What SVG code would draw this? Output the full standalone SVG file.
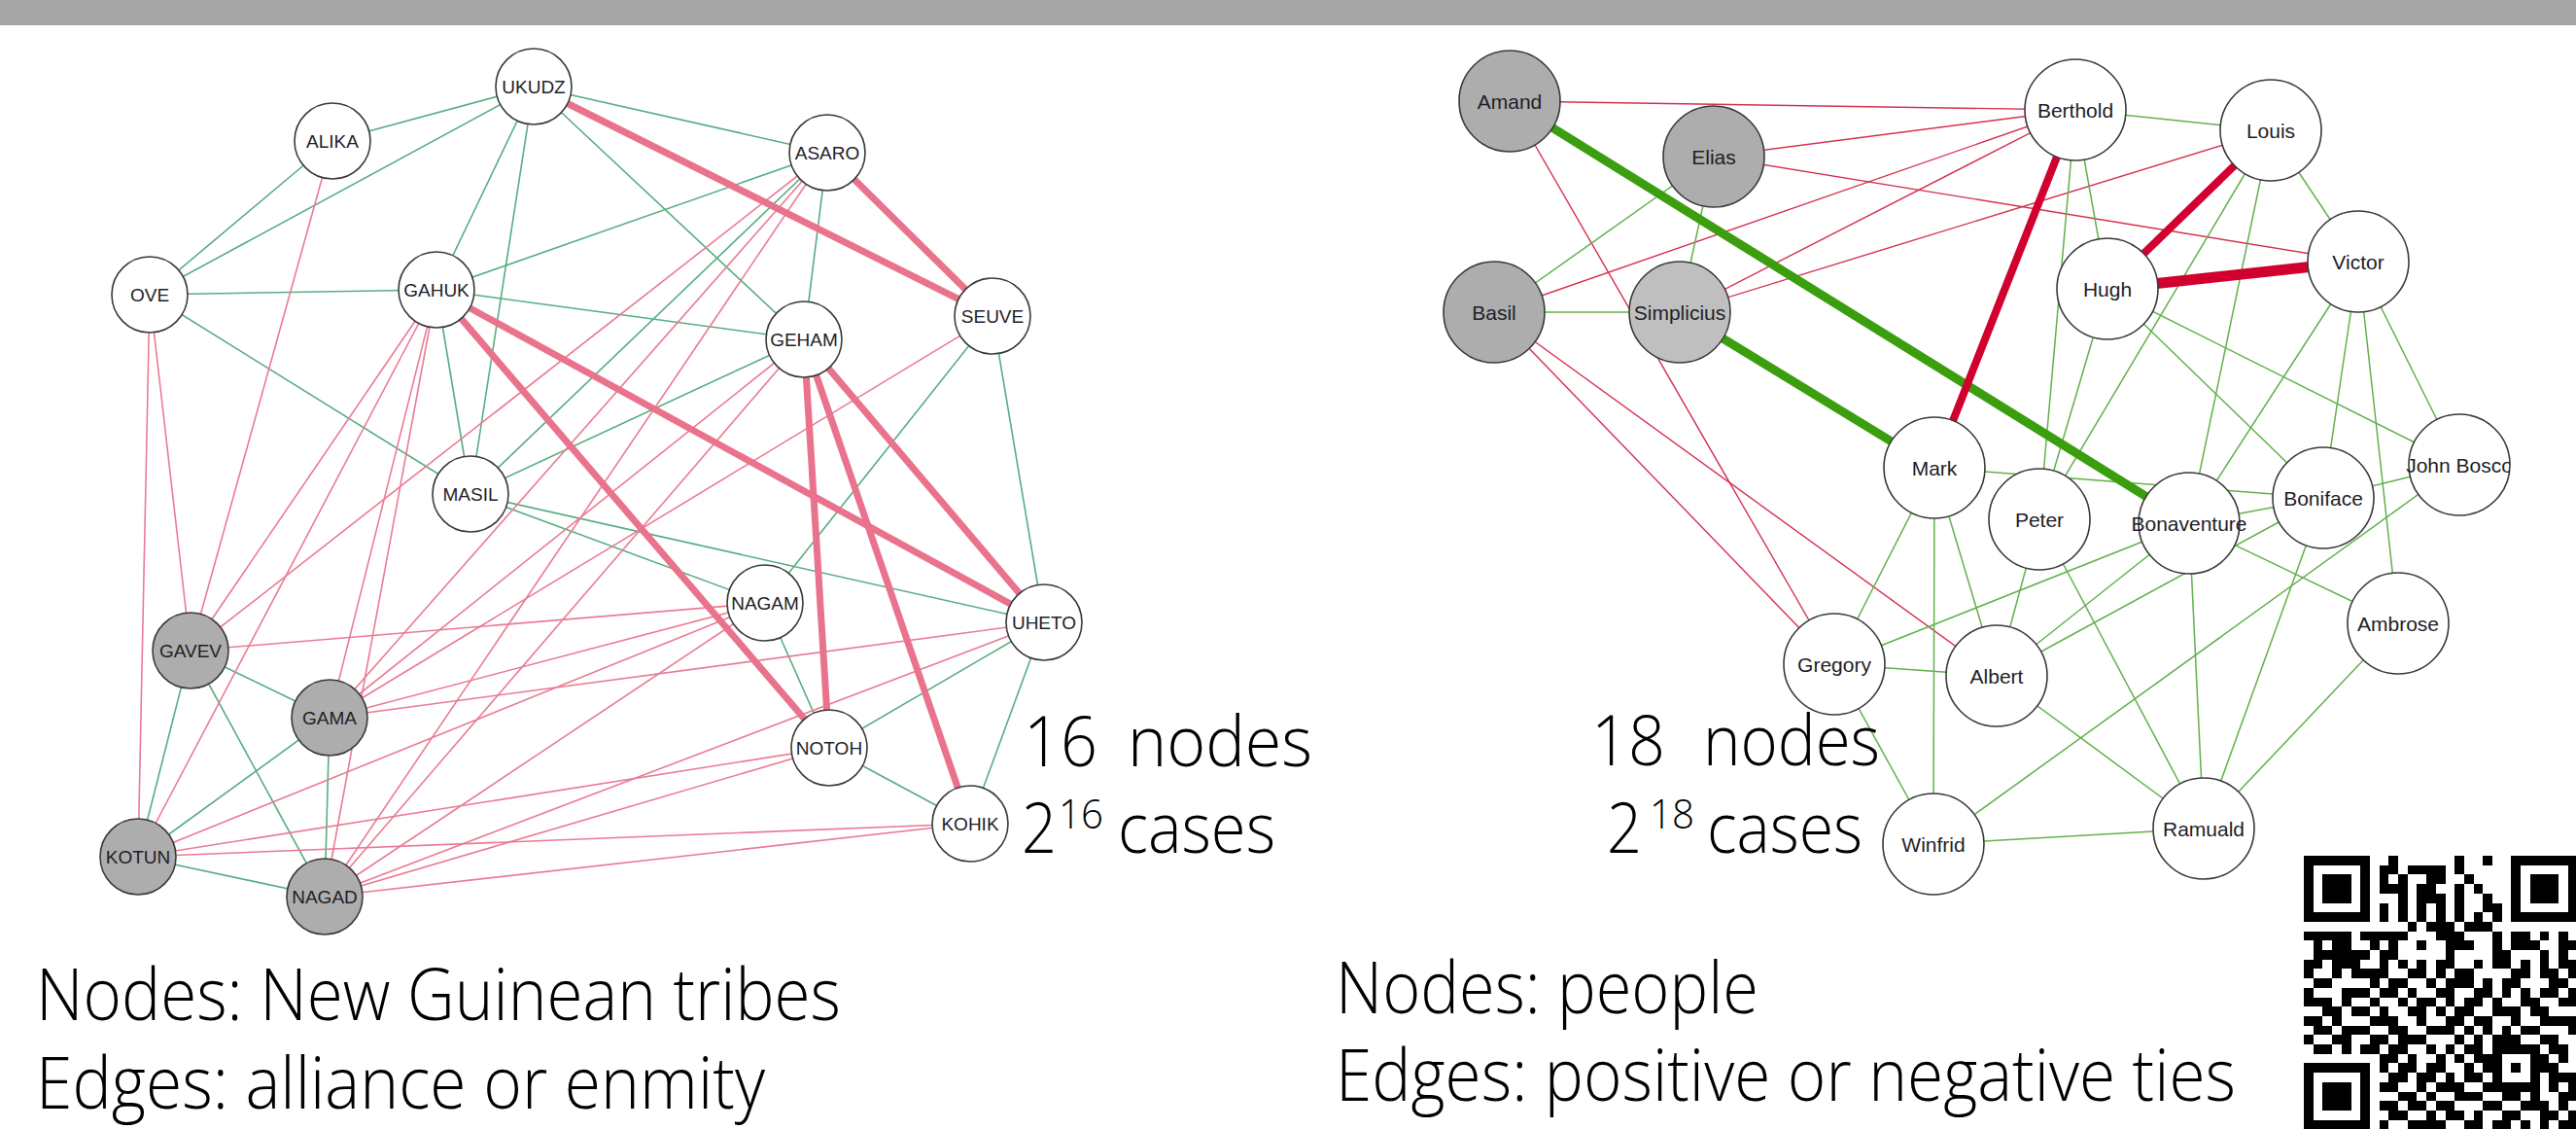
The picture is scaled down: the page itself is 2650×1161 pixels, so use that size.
<svg xmlns="http://www.w3.org/2000/svg" width="2650" height="1161" viewBox="0 0 2650 1161">
<style>
.gl{stroke:#56ad82;stroke-width:1.6}
.pl{stroke:#ea7b95;stroke-width:1.6}
.pk{stroke:#e9738d;stroke-width:7}
.gr{stroke:#62b04c;stroke-width:1.5}
.rr{stroke:#d5304f;stroke-width:1.4}
.gt{stroke:#3a9e0e;stroke-width:9}
.rt{stroke:#d1002f;stroke-width:8}
.n{fill:#fff;stroke:#3a3a3a;stroke-width:1.6}
.g{fill:#adadad;stroke:#3a3a3a;stroke-width:1.6}
.s{fill:#bfbfbf;stroke:#3a3a3a;stroke-width:1.6}
.l1{font-family:"Liberation Sans",Arial,sans-serif;font-size:19px;fill:#1e1e28;text-anchor:middle}
.l2{font-family:"Liberation Sans",Arial,sans-serif;font-size:21px;fill:#1e1e28;text-anchor:middle}
.big{font-family:"Open Sans","Liberation Sans",sans-serif;font-weight:300;fill:#000}
</style>
<defs>
<clipPath id="rc"><rect x="1400" y="30" width="1182" height="900"/></clipPath>
</defs>
<rect x="0" y="0" width="2650" height="1161" fill="#fff"/>
<rect x="0" y="0" width="2650" height="26" fill="#a5a5a5"/>

<g id="connectors">
<g id="left-edges">
<line class="gl" x1="196" y1="669" x2="142" y2="881"/>
<line class="gl" x1="196" y1="669" x2="339" y2="738"/>
<line class="gl" x1="196" y1="669" x2="334" y2="922"/>
<line class="gl" x1="142" y1="881" x2="339" y2="738"/>
<line class="gl" x1="142" y1="881" x2="334" y2="922"/>
<line class="gl" x1="339" y1="738" x2="334" y2="922"/>
<line class="gl" x1="154" y1="303" x2="342" y2="145"/>
<line class="gl" x1="154" y1="303" x2="549" y2="89"/>
<line class="gl" x1="154" y1="303" x2="449" y2="298"/>
<line class="gl" x1="154" y1="303" x2="484" y2="508"/>
<line class="gl" x1="342" y1="145" x2="549" y2="89"/>
<line class="gl" x1="549" y1="89" x2="449" y2="298"/>
<line class="gl" x1="549" y1="89" x2="484" y2="508"/>
<line class="gl" x1="549" y1="89" x2="827" y2="349"/>
<line class="gl" x1="549" y1="89" x2="851" y2="157"/>
<line class="gl" x1="449" y1="298" x2="851" y2="157"/>
<line class="gl" x1="449" y1="298" x2="827" y2="349"/>
<line class="gl" x1="449" y1="298" x2="484" y2="508"/>
<line class="gl" x1="484" y1="508" x2="851" y2="157"/>
<line class="gl" x1="484" y1="508" x2="827" y2="349"/>
<line class="gl" x1="484" y1="508" x2="787" y2="620"/>
<line class="gl" x1="484" y1="508" x2="1074" y2="640"/>
<line class="gl" x1="851" y1="157" x2="827" y2="349"/>
<line class="gl" x1="1021" y1="325" x2="787" y2="620"/>
<line class="gl" x1="1021" y1="325" x2="1074" y2="640"/>
<line class="gl" x1="787" y1="620" x2="853" y2="769"/>
<line class="gl" x1="1074" y1="640" x2="853" y2="769"/>
<line class="gl" x1="1074" y1="640" x2="998" y2="847"/>
<line class="gl" x1="853" y1="769" x2="998" y2="847"/>

<line class="pl" x1="196" y1="669" x2="154" y2="303"/>
<line class="pl" x1="196" y1="669" x2="342" y2="145"/>
<line class="pl" x1="196" y1="669" x2="449" y2="298"/>
<line class="pl" x1="196" y1="669" x2="851" y2="157"/>
<line class="pl" x1="196" y1="669" x2="787" y2="620"/>
<line class="pl" x1="142" y1="881" x2="154" y2="303"/>
<line class="pl" x1="142" y1="881" x2="449" y2="298"/>
<line class="pl" x1="142" y1="881" x2="787" y2="620"/>
<line class="pl" x1="142" y1="881" x2="853" y2="769"/>
<line class="pl" x1="142" y1="881" x2="998" y2="847"/>
<line class="pl" x1="339" y1="738" x2="449" y2="298"/>
<line class="pl" x1="339" y1="738" x2="851" y2="157"/>
<line class="pl" x1="339" y1="738" x2="827" y2="349"/>
<line class="pl" x1="339" y1="738" x2="1021" y2="325"/>
<line class="pl" x1="339" y1="738" x2="787" y2="620"/>
<line class="pl" x1="339" y1="738" x2="1074" y2="640"/>
<line class="pl" x1="334" y1="922" x2="449" y2="298"/>
<line class="pl" x1="334" y1="922" x2="851" y2="157"/>
<line class="pl" x1="334" y1="922" x2="827" y2="349"/>
<line class="pl" x1="334" y1="922" x2="787" y2="620"/>
<line class="pl" x1="334" y1="922" x2="1074" y2="640"/>
<line class="pl" x1="334" y1="922" x2="853" y2="769"/>
<line class="pl" x1="334" y1="922" x2="998" y2="847"/>

<line class="pk" x1="549" y1="89" x2="1021" y2="325"/>
<line class="pk" x1="851" y1="157" x2="1021" y2="325"/>
<line class="pk" x1="449" y1="298" x2="1074" y2="640"/>
<line class="pk" x1="449" y1="298" x2="853" y2="769"/>
<line class="pk" x1="827" y1="349" x2="853" y2="769"/>
<line class="pk" x1="827" y1="349" x2="998" y2="847"/>
<line class="pk" x1="827" y1="349" x2="1074" y2="640"/>
</g>

<g id="right-edges">
<line class="rr" x1="1553" y1="104" x2="2135" y2="113"/>
<line class="rr" x1="1763" y1="161" x2="2135" y2="113"/>
<line class="rr" x1="1537" y1="321" x2="2135" y2="113"/>
<line class="rr" x1="1728" y1="321" x2="2135" y2="113"/>
<line class="rr" x1="1728" y1="321" x2="2336" y2="134"/>
<line class="rr" x1="1763" y1="161" x2="2426" y2="269"/>
<line class="rr" x1="1553" y1="104" x2="1887" y2="683"/>
<line class="rr" x1="1537" y1="321" x2="1887" y2="683"/>
<line class="rr" x1="1537" y1="321" x2="2054" y2="695"/>

<line class="gr" x1="1537" y1="321" x2="1728" y2="321"/>
<line class="gr" x1="1537" y1="321" x2="1763" y2="161"/>
<line class="gr" x1="1763" y1="161" x2="1728" y2="321"/>
<line class="gr" x1="2135" y1="113" x2="2336" y2="134"/>
<line class="gr" x1="2135" y1="113" x2="2168" y2="297"/>
<line class="gr" x1="2135" y1="113" x2="2098" y2="534"/>
<line class="gr" x1="2168" y1="297" x2="2098" y2="534"/>
<line class="gr" x1="2336" y1="134" x2="2098" y2="534"/>
<line class="gr" x1="2336" y1="134" x2="2252" y2="538"/>
<line class="gr" x1="2336" y1="134" x2="2426" y2="269"/>
<line class="gr" x1="2168" y1="297" x2="2390" y2="512"/>
<line class="gr" x1="2168" y1="297" x2="2530" y2="478"/>
<line class="gr" x1="2426" y1="269" x2="2390" y2="512"/>
<line class="gr" x1="2426" y1="269" x2="2467" y2="641"/>
<line class="gr" x1="2426" y1="269" x2="2530" y2="478"/>
<line class="gr" x1="2426" y1="269" x2="2252" y2="538"/>
<line class="gr" x1="1990" y1="481" x2="2390" y2="512"/>
<line class="gr" x1="1990" y1="481" x2="1887" y2="683"/>
<line class="gr" x1="1990" y1="481" x2="1989" y2="868"/>
<line class="gr" x1="1990" y1="481" x2="2054" y2="695"/>
<line class="gr" x1="2098" y1="534" x2="2054" y2="695"/>
<line class="gr" x1="2098" y1="534" x2="2267" y2="852"/>
<line class="gr" x1="2252" y1="538" x2="1887" y2="683"/>
<line class="gr" x1="2252" y1="538" x2="2054" y2="695"/>
<line class="gr" x1="2054" y1="695" x2="2390" y2="512"/>
<line class="gr" x1="2252" y1="538" x2="2267" y2="852"/>
<line class="gr" x1="2252" y1="538" x2="2467" y2="641"/>
<line class="gr" x1="2252" y1="538" x2="2390" y2="512"/>
<line class="gr" x1="2390" y1="512" x2="2530" y2="478"/>
<line class="gr" x1="2390" y1="512" x2="2267" y2="852"/>
<line class="gr" x1="2467" y1="641" x2="2267" y2="852"/>
<line class="gr" x1="1989" y1="868" x2="2267" y2="852"/>
<line class="gr" x1="2054" y1="695" x2="2267" y2="852"/>
<line class="gr" x1="1887" y1="683" x2="2054" y2="695"/>
<line class="gr" x1="1887" y1="683" x2="1989" y2="868"/>
<line class="gr" x1="1989" y1="868" x2="2530" y2="478"/>

<line class="gt" x1="1553" y1="104" x2="2252" y2="538"/>
<line class="gt" x1="1728" y1="321" x2="1990" y2="481"/>
<line class="rt" x1="2135" y1="113" x2="1990" y2="481"/>
<line class="rt" x1="2336" y1="134" x2="2168" y2="297"/>
<line class="rt" x1="2168" y1="297" x2="2426" y2="269" style="stroke-width:11"/>
</g>
</g>

<g id="n-UKUDZ"><circle class="n" cx="549" cy="89" r="39"/><text class="l1" x="549" y="96">UKUDZ</text></g>
<g id="n-ALIKA"><circle class="n" cx="342" cy="145" r="39"/><text class="l1" x="342" y="152">ALIKA</text></g>
<g id="n-ASARO"><circle class="n" cx="851" cy="157" r="39"/><text class="l1" x="851" y="164">ASARO</text></g>
<g id="n-OVE"><circle class="n" cx="154" cy="303" r="39"/><text class="l1" x="154" y="310">OVE</text></g>
<g id="n-GAHUK"><circle class="n" cx="449" cy="298" r="39"/><text class="l1" x="449" y="305">GAHUK</text></g>
<g id="n-GEHAM"><circle class="n" cx="827" cy="349" r="39"/><text class="l1" x="827" y="356">GEHAM</text></g>
<g id="n-SEUVE"><circle class="n" cx="1021" cy="325" r="39"/><text class="l1" x="1021" y="332">SEUVE</text></g>
<g id="n-MASIL"><circle class="n" cx="484" cy="508" r="39"/><text class="l1" x="484" y="515">MASIL</text></g>
<g id="n-NAGAM"><circle class="n" cx="787" cy="620" r="39"/><text class="l1" x="787" y="627">NAGAM</text></g>
<g id="n-UHETO"><circle class="n" cx="1074" cy="640" r="39"/><text class="l1" x="1074" y="647">UHETO</text></g>
<g id="n-GAVEV"><circle class="g" cx="196" cy="669" r="39"/><text class="l1" x="196" y="676">GAVEV</text></g>
<g id="n-GAMA"><circle class="g" cx="339" cy="738" r="39"/><text class="l1" x="339" y="745">GAMA</text></g>
<g id="n-NOTOH"><circle class="n" cx="853" cy="769" r="39"/><text class="l1" x="853" y="776">NOTOH</text></g>
<g id="n-KOHIK"><circle class="n" cx="998" cy="847" r="39"/><text class="l1" x="998" y="854">KOHIK</text></g>
<g id="n-KOTUN"><circle class="g" cx="142" cy="881" r="39"/><text class="l1" x="142" y="888">KOTUN</text></g>
<g id="n-NAGAD"><circle class="g" cx="334" cy="922" r="39"/><text class="l1" x="334" y="929">NAGAD</text></g>

<g id="n-Amand"><circle class="g" cx="1553" cy="104" r="52"/><text class="l2" x="1553" y="112">Amand</text></g>
<g id="n-Elias"><circle class="g" cx="1763" cy="161" r="52"/><text class="l2" x="1763" y="169">Elias</text></g>
<g id="n-Basil"><circle class="g" cx="1537" cy="321" r="52"/><text class="l2" x="1537" y="329">Basil</text></g>
<g id="n-Simplicius"><circle class="s" cx="1728" cy="321" r="52"/><text class="l2" x="1728" y="329">Simplicius</text></g>
<g id="n-Berthold"><circle class="n" cx="2135" cy="113" r="52"/><text class="l2" x="2135" y="121">Berthold</text></g>
<g id="n-Louis"><circle class="n" cx="2336" cy="134" r="52"/><text class="l2" x="2336" y="142">Louis</text></g>
<g id="n-Victor"><circle class="n" cx="2426" cy="269" r="52"/><text class="l2" x="2426" y="277">Victor</text></g>
<g id="n-Hugh"><circle class="n" cx="2168" cy="297" r="52"/><text class="l2" x="2168" y="305">Hugh</text></g>
<g id="n-Mark"><circle class="n" cx="1990" cy="481" r="52"/><text class="l2" x="1990" y="489">Mark</text></g>
<g id="n-Peter"><circle class="n" cx="2098" cy="534" r="52"/><text class="l2" x="2098" y="542">Peter</text></g>
<g id="n-Bonaventure"><circle class="n" cx="2252" cy="538" r="52"/><text class="l2" x="2252" y="546">Bonaventure</text></g>
<g id="n-Boniface"><circle class="n" cx="2390" cy="512" r="52"/><text class="l2" x="2390" y="520">Boniface</text></g>
<g id="n-JohnBosco"><circle class="n" cx="2530" cy="478" r="52"/><text class="l2" x="2530" y="486" clip-path="url(#rc)">John Bosco</text></g>
<g id="n-Ambrose"><circle class="n" cx="2467" cy="641" r="52"/><text class="l2" x="2467" y="649">Ambrose</text></g>
<g id="n-Gregory"><circle class="n" cx="1887" cy="683" r="52"/><text class="l2" x="1887" y="691">Gregory</text></g>
<g id="n-Albert"><circle class="n" cx="2054" cy="695" r="52"/><text class="l2" x="2054" y="703">Albert</text></g>
<g id="n-Winfrid"><circle class="n" cx="1989" cy="868" r="52"/><text class="l2" x="1989" y="876">Winfrid</text></g>
<g id="n-Ramuald"><circle class="n" cx="2267" cy="852" r="52"/><text class="l2" x="2267" y="860">Ramuald</text></g>

<g id="counts" class="big">
<text x="1053" y="788" font-size="72" textLength="76" lengthAdjust="spacingAndGlyphs">16</text>
<text x="1160" y="788" font-size="72" textLength="190" lengthAdjust="spacingAndGlyphs">nodes</text>
<text x="1051" y="877" font-size="72" textLength="36" lengthAdjust="spacingAndGlyphs">2</text>
<text x="1089" y="852" font-size="42" textLength="46" lengthAdjust="spacingAndGlyphs">16</text>
<text x="1150" y="877" font-size="72" textLength="162" lengthAdjust="spacingAndGlyphs">cases</text>
<text x="1637" y="787" font-size="72" textLength="76" lengthAdjust="spacingAndGlyphs">18</text>
<text x="1752" y="787" font-size="72" textLength="182" lengthAdjust="spacingAndGlyphs">nodes</text>
<text x="1653" y="877" font-size="72" textLength="36" lengthAdjust="spacingAndGlyphs">2</text>
<text x="1697" y="852" font-size="42" textLength="46" lengthAdjust="spacingAndGlyphs">18</text>
<text x="1756" y="877" font-size="72" textLength="160" lengthAdjust="spacingAndGlyphs">cases</text>
</g>

<g id="captions" class="big" font-size="73">
<text x="37" y="1049" textLength="828" lengthAdjust="spacingAndGlyphs">Nodes: New Guinean tribes</text>
<text x="37" y="1140" textLength="750" lengthAdjust="spacingAndGlyphs">Edges: alliance or enmity</text>
<text x="1374" y="1042" textLength="435" lengthAdjust="spacingAndGlyphs">Nodes: people</text>
<text x="1374" y="1132" textLength="926" lengthAdjust="spacingAndGlyphs">Edges: positive or negative ties</text>
</g>

<g id="qr" transform="translate(2370,880) scale(9.7)" fill="#000" shape-rendering="crispEdges">
<path d="M0 0h7v1h-7zM9 0h1v1h-1zM16 0h1v1h-1zM19 0h1v1h-1zM22 0h7v1h-7z
M0 1h1v1h-1zM6 1h1v1h-1zM8 1h2v1h-2zM11 1h4v1h-4zM16 1h1v1h-1zM22 1h1v1h-1zM28 1h1v1h-1z
M0 2h1v1h-1zM2 2h3v1h-3zM6 2h1v1h-1zM8 2h1v1h-1zM10 2h1v1h-1zM13 2h2v1h-2zM17 2h1v1h-1zM22 2h1v1h-1zM24 2h3v1h-3zM28 2h1v1h-1z
M0 3h1v1h-1zM2 3h3v1h-3zM6 3h1v1h-1zM8 3h3v1h-3zM12 3h2v1h-2zM16 3h1v1h-1zM18 3h1v1h-1zM22 3h1v1h-1zM24 3h3v1h-3zM28 3h1v1h-1z
M0 4h1v1h-1zM2 4h3v1h-3zM6 4h1v1h-1zM10 4h1v1h-1zM12 4h3v1h-3zM16 4h1v1h-1zM19 4h1v1h-1zM22 4h1v1h-1zM24 4h3v1h-3zM28 4h1v1h-1z
M0 5h1v1h-1zM6 5h1v1h-1zM8 5h1v1h-1zM10 5h1v1h-1zM12 5h1v1h-1zM14 5h1v1h-1zM16 5h1v1h-1zM19 5h2v1h-2zM22 5h1v1h-1zM28 5h1v1h-1z
M0 6h7v1h-7zM8 6h1v1h-1zM10 6h1v1h-1zM12 6h1v1h-1zM14 6h1v1h-1zM16 6h1v1h-1zM18 6h1v1h-1zM20 6h1v1h-1zM22 6h7v1h-7z
M11 7h1v1h-1zM13 7h3v1h-3zM17 7h3v1h-3z
M0 8h5v1h-5zM6 8h5v1h-5zM14 8h3v1h-3zM20 8h1v1h-1zM22 8h2v1h-2zM25 8h1v1h-1zM27 8h1v1h-1z
M1 9h1v1h-1zM3 9h2v1h-2zM7 9h1v1h-1zM9 9h1v1h-1zM12 9h1v1h-1zM15 9h3v1h-3zM20 9h1v1h-1zM22 9h3v1h-3zM27 9h2v1h-2z
M1 10h6v1h-6zM8 10h2v1h-2zM15 10h1v1h-1zM20 10h2v1h-2zM25 10h1v1h-1zM27 10h1v1h-1z
M0 11h2v1h-2zM3 11h3v1h-3zM8 11h1v1h-1zM10 11h1v1h-1zM12 11h1v1h-1zM14 11h2v1h-2zM18 11h1v1h-1zM20 11h2v1h-2zM23 11h1v1h-1zM25 11h1v1h-1zM27 11h2v1h-2z
M0 12h1v1h-1zM3 12h1v1h-1zM5 12h4v1h-4zM11 12h2v1h-2zM14 12h1v1h-1zM16 12h2v1h-2zM22 12h2v1h-2zM25 12h2v1h-2zM28 12h1v1h-1z
M1 13h2v1h-2zM7 13h1v1h-1zM9 13h2v1h-2zM13 13h1v1h-1zM15 13h3v1h-3zM19 13h1v1h-1zM21 13h2v1h-2zM26 13h2v1h-2z
M0 14h1v1h-1zM4 14h3v1h-3zM8 14h2v1h-2zM11 14h1v1h-1zM14 14h2v1h-2zM18 14h2v1h-2zM21 14h1v1h-1zM23 14h1v1h-1zM25 14h2v1h-2zM28 14h1v1h-1z
M0 15h3v1h-3zM4 15h1v1h-1zM7 15h1v1h-1zM10 15h1v1h-1zM12 15h2v1h-2zM15 15h1v1h-1zM17 15h2v1h-2zM20 15h1v1h-1zM23 15h2v1h-2zM27 15h2v1h-2z
M2 16h2v1h-2zM5 16h2v1h-2zM8 16h1v1h-1zM11 16h2v1h-2zM14 16h1v1h-1zM16 16h2v1h-2zM20 16h3v1h-3zM24 16h2v1h-2z
M0 17h2v1h-2zM3 17h1v1h-1zM7 17h3v1h-3zM12 17h1v1h-1zM15 17h2v1h-2zM18 17h2v1h-2zM22 17h1v1h-1zM25 17h4v1h-4z
M1 18h2v1h-2zM4 18h3v1h-3zM9 18h2v1h-2zM13 18h3v1h-3zM17 18h1v1h-1zM19 18h1v1h-1zM21 18h1v1h-1zM23 18h2v1h-2zM28 18h1v1h-1z
M0 19h1v1h-1zM3 19h2v1h-2zM7 19h2v1h-2zM10 19h3v1h-3zM16 19h1v1h-1zM18 19h1v1h-1zM20 19h3v1h-3zM25 19h2v1h-2z
M1 20h2v1h-2zM4 20h1v1h-1zM6 20h2v1h-2zM9 20h2v1h-2zM13 20h1v1h-1zM15 20h1v1h-1zM17 20h2v1h-2zM20 20h5v1h-5zM26 20h2v1h-2z
M8 21h2v1h-2zM11 21h1v1h-1zM14 21h1v1h-1zM16 21h1v1h-1zM18 21h3v1h-3zM24 21h2v1h-2zM27 21h1v1h-1z
M0 22h7v1h-7zM8 22h1v1h-1zM10 22h2v1h-2zM13 22h2v1h-2zM17 22h1v1h-1zM19 22h2v1h-2zM22 22h1v1h-1zM24 22h3v1h-3z
M0 23h1v1h-1zM6 23h1v1h-1zM9 23h2v1h-2zM12 23h2v1h-2zM15 23h1v1h-1zM17 23h2v1h-2zM20 23h1v1h-1zM24 23h1v1h-1zM26 23h3v1h-3z
M0 24h1v1h-1zM2 24h3v1h-3zM6 24h1v1h-1zM8 24h2v1h-2zM12 24h1v1h-1zM14 24h3v1h-3zM19 24h6v1h-6zM26 24h1v1h-1zM28 24h1v1h-1z
M0 25h1v1h-1zM2 25h3v1h-3zM6 25h1v1h-1zM10 25h2v1h-2zM13 25h1v1h-1zM16 25h3v1h-3zM21 25h2v1h-2zM24 25h1v1h-1zM27 25h2v1h-2z
M0 26h1v1h-1zM2 26h3v1h-3zM6 26h1v1h-1zM8 26h2v1h-2zM11 26h2v1h-2zM14 26h2v1h-2zM19 26h2v1h-2zM23 26h3v1h-3zM27 26h1v1h-1z
M0 27h1v1h-1zM6 27h1v1h-1zM9 27h2v1h-2zM13 27h1v1h-1zM15 27h2v1h-2zM18 27h1v1h-1zM21 27h2v1h-2zM25 27h2v1h-2zM28 27h1v1h-1z
M0 28h7v1h-7zM8 28h1v1h-1zM11 28h4v1h-4zM17 28h2v1h-2zM20 28h2v1h-2zM23 28h1v1h-1zM25 28h1v1h-1zM27 28h2v1h-2z"/>
</g>
</svg>
